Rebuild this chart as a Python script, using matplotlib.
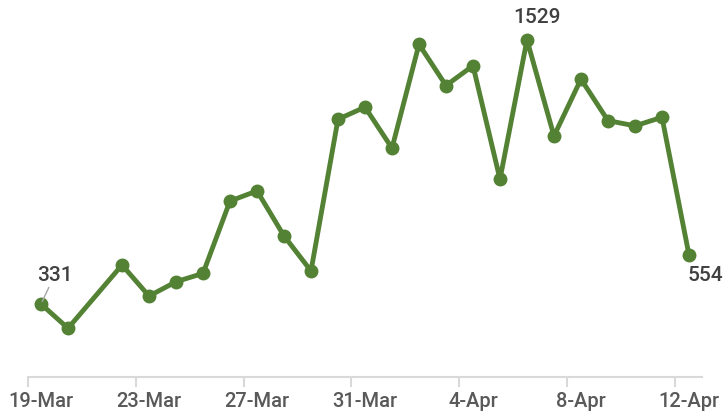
import numpy as np
from matplotlib import pyplot as plt

plt.rcParams['font.family'] = ['Roboto', 'DejaVu Sans']

# day index from 19-Mar (21-Mar has no value)
days = [0, 1, 3, 4, 5, 6, 7, 8, 9, 10, 11, 12, 13, 14, 15, 16, 17, 18, 19, 20, 21, 22, 23, 24]
values = [331, 221, 508, 367, 432, 470, 798, 844, 640, 481, 1169, 1224, 1038,
          1509, 1322, 1412, 897, 1529, 1093, 1351, 1163, 1139, 1178, 554]
tick_days = [0, 4, 8, 12, 16, 20, 24]
tick_labels = ["19-Mar", "23-Mar", "27-Mar", "31-Mar", "4-Apr", "8-Apr", "12-Apr"]

green = "#538234"
fig = plt.figure(figsize=(7.26, 4.15), dpi=100)
ax = fig.add_axes([0.0379, 0.0916, 0.9297, 0.9084])
ax.plot(days, values, color=green, lw=3.5, marker='o', ms=9, solid_joinstyle='round')

ax.set_xlim(-0.5, 24.5)
ax.set_ylim(0, 1710)
for s in ["top", "right", "left"]:
    ax.spines[s].set_visible(False)
ax.spines["bottom"].set_color("#d9d9d9")
ax.spines["bottom"].set_linewidth(1.5)
ax.set_yticks([])

ax.set_xticks(tick_days)
ax.set_xticklabels(tick_labels, fontsize=14.5, color="#595959", fontweight='medium')
ax.tick_params(axis='x', which='major', length=0, pad=11)
ax.set_xticks([d - 0.5 for d in tick_days], minor=True)
ax.tick_params(axis='x', which='minor', length=7, width=1.5, color="#d9d9d9")

lab = dict(fontsize=15, color="#404040", fontweight='medium')
ax.annotate(str(values[0]), xy=(days[0], values[0]), xytext=(-3, 14), textcoords='offset points',
            ha='left', va='bottom',
            arrowprops=dict(arrowstyle='-', color='#a6a6a6', lw=1, shrinkA=0, shrinkB=2), **lab)
ax.annotate(str(values[17]), xy=(days[17], values[17]), xytext=(7, 9), textcoords='offset points',
            ha='center', va='bottom', **lab)
ax.annotate(str(values[-1]), xy=(days[-1], values[-1]), xytext=(-1, -8), textcoords='offset points',
            ha='left', va='top', **lab)

fig.savefig("out.png", dpi=100)
